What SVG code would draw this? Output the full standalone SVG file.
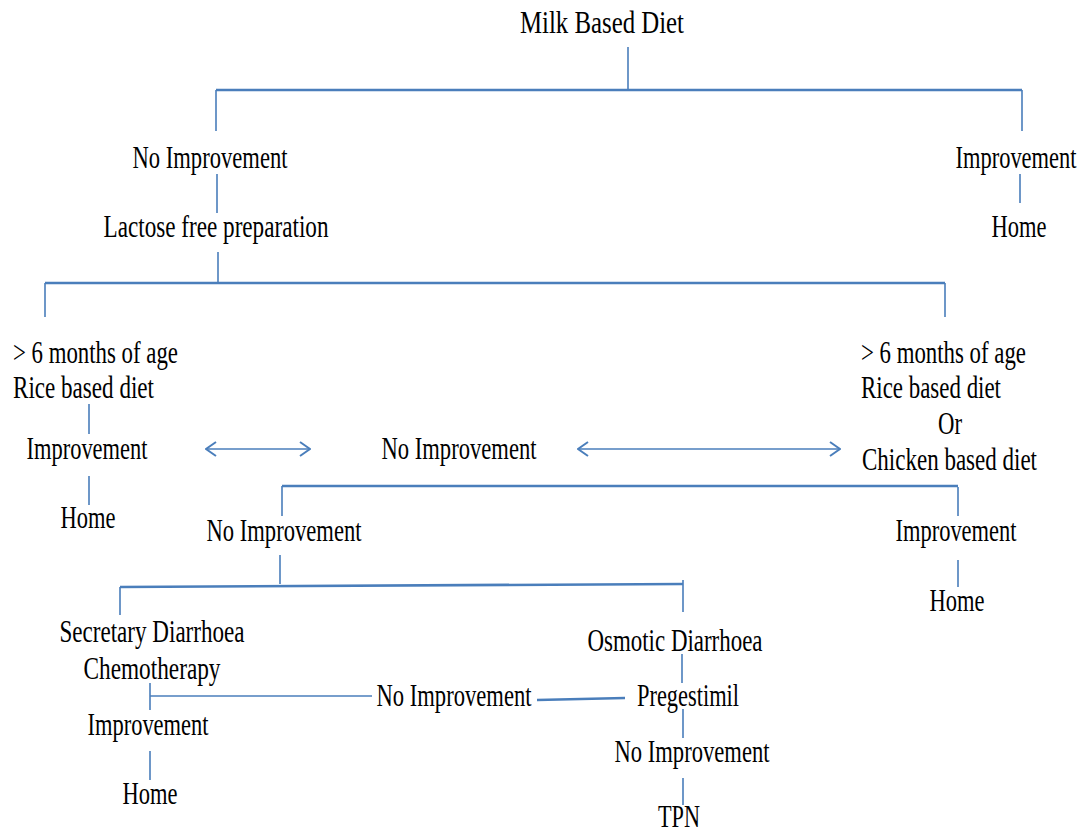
<svg xmlns="http://www.w3.org/2000/svg" width="1086" height="832" viewBox="0 0 1086 832">
<style>
text{font-family:"Liberation Serif","Times New Roman",serif;font-size:31px;fill:#000}
.c{text-anchor:middle}
.ln{stroke:#4a7ebb;stroke-width:1.6;fill:none}
.th{stroke:#4a7ebb;stroke-width:2.6;fill:none}
</style>
<defs>
<marker id="ah" viewBox="-11 -8 12 16" markerWidth="12" markerHeight="16" refX="0" refY="0" orient="auto-start-reverse" markerUnits="userSpaceOnUse">
<path d="M-10,-7 L0,0 L-10,7" stroke="#4a7ebb" stroke-width="2" fill="none"/>
</marker>
</defs>
<rect width="1086" height="832" fill="#fff"/>
<g id="connectors">
<path class="ln" d="M628,47 V90"/>
<path class="th" d="M216,90 H1022"/>
<path class="ln" d="M216,90 V131 M1022,90 V131"/>
<path class="ln" d="M217,174 V213 M1020,174 V203"/>
<path class="ln" d="M218,252 V283"/>
<path class="th" d="M45,283 H945"/>
<path class="ln" d="M45,283 V317 M945,283 V317"/>
<path class="ln" d="M89,404 V434 M89,476 V505"/>
<path class="ln" d="M206,449 H310" marker-start="url(#ah)" marker-end="url(#ah)"/>
<path class="ln" d="M578,449 H840" marker-start="url(#ah)" marker-end="url(#ah)"/>
<path class="th" d="M282,486 H958"/>
<path class="ln" d="M282,486 V516 M958,487 V516 M958,560 V587"/>
<path class="ln" d="M280,555 V584"/>
<path class="th" d="M120,587 L683,584"/>
<path class="ln" d="M120,587 V615 M683,580 V612"/>
<path class="ln" d="M682,654 V683"/>
<path class="th" d="M537,700 L625,698"/>
<path class="ln" d="M150,696 H372"/>
<path class="ln" d="M150,683 V710 M150,751 V780"/>
<path class="ln" d="M683,709 V738 M683,778 V805"/>
</g>
<g id="n1"><text class="c" x="602" y="33" textLength="164" lengthAdjust="spacingAndGlyphs">Milk Based Diet</text></g>
<g id="n2"><text class="c" x="210" y="168" textLength="155" lengthAdjust="spacingAndGlyphs">No Improvement</text></g>
<g id="n3"><text class="c" x="1016" y="168" textLength="121" lengthAdjust="spacingAndGlyphs">Improvement</text></g>
<g id="n4"><text class="c" x="216" y="237" textLength="225" lengthAdjust="spacingAndGlyphs">Lactose free preparation</text></g>
<g id="n5"><text class="c" x="1019" y="237" textLength="55" lengthAdjust="spacingAndGlyphs">Home</text></g>
<g id="n6">
<text x="13" y="363" textLength="165" lengthAdjust="spacingAndGlyphs">&gt; 6 months of age</text>
<text x="13" y="398" textLength="141" lengthAdjust="spacingAndGlyphs">Rice based diet</text>
</g>
<g id="n7"><text class="c" x="87" y="459" textLength="121" lengthAdjust="spacingAndGlyphs">Improvement</text></g>
<g id="n8"><text class="c" x="88" y="528" textLength="55" lengthAdjust="spacingAndGlyphs">Home</text></g>
<g id="n9"><text class="c" x="459" y="459" textLength="155" lengthAdjust="spacingAndGlyphs">No Improvement</text></g>
<g id="n10">
<text x="861" y="363" textLength="165" lengthAdjust="spacingAndGlyphs">&gt; 6 months of age</text>
<text x="861" y="398" textLength="140" lengthAdjust="spacingAndGlyphs">Rice based diet</text>
<text x="938" y="434" textLength="24" lengthAdjust="spacingAndGlyphs">Or</text>
<text x="862" y="470" textLength="175" lengthAdjust="spacingAndGlyphs">Chicken based diet</text>
</g>
<g id="n11"><text class="c" x="284" y="541" textLength="155" lengthAdjust="spacingAndGlyphs">No Improvement</text></g>
<g id="n12"><text class="c" x="956" y="541" textLength="121" lengthAdjust="spacingAndGlyphs">Improvement</text></g>
<g id="n13"><text class="c" x="957" y="611" textLength="55" lengthAdjust="spacingAndGlyphs">Home</text></g>
<g id="n14">
<text class="c" x="152" y="642" textLength="185" lengthAdjust="spacingAndGlyphs">Secretary Diarrhoea</text>
<text class="c" x="152" y="679" textLength="137" lengthAdjust="spacingAndGlyphs">Chemotherapy</text>
</g>
<g id="n15"><text class="c" x="148" y="735" textLength="121" lengthAdjust="spacingAndGlyphs">Improvement</text></g>
<g id="n16"><text class="c" x="150" y="804" textLength="55" lengthAdjust="spacingAndGlyphs">Home</text></g>
<g id="n17"><text class="c" x="454" y="706" textLength="155" lengthAdjust="spacingAndGlyphs">No Improvement</text></g>
<g id="n18"><text class="c" x="675" y="651" textLength="175" lengthAdjust="spacingAndGlyphs">Osmotic Diarrhoea</text></g>
<g id="n19"><text class="c" x="688" y="706" textLength="102" lengthAdjust="spacingAndGlyphs">Pregestimil</text></g>
<g id="n20"><text class="c" x="692" y="762" textLength="155" lengthAdjust="spacingAndGlyphs">No Improvement</text></g>
<g id="n21"><text class="c" x="679" y="827" textLength="42" lengthAdjust="spacingAndGlyphs">TPN</text></g>
</svg>
